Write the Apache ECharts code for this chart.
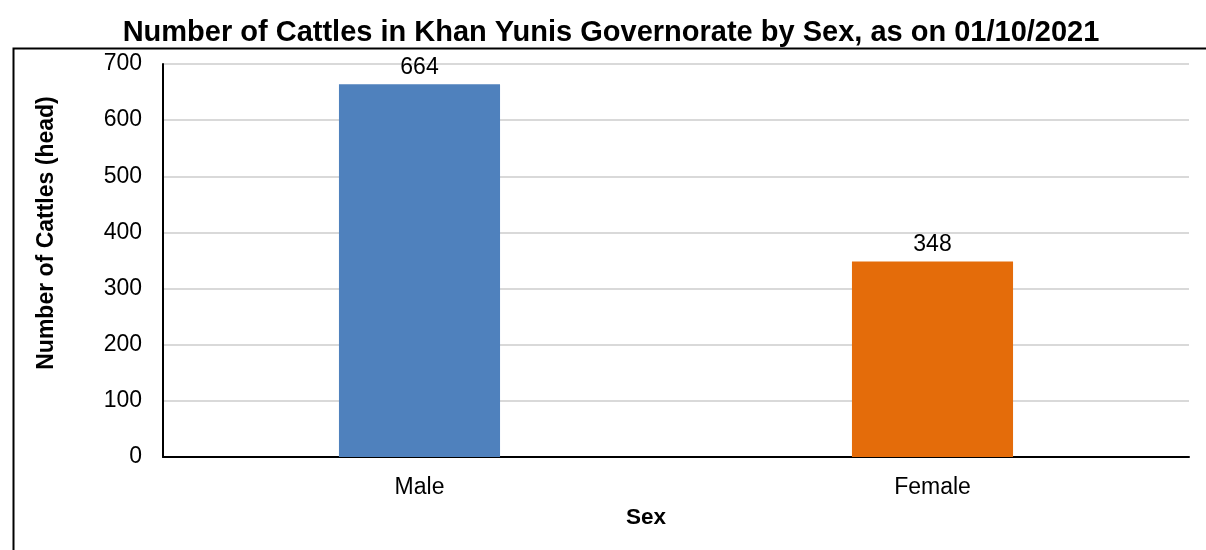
<!DOCTYPE html>
<html>
<head>
<meta charset="utf-8">
<script src="https://cdn.jsdelivr.net/npm/echarts@6/dist/echarts.min.js"></script>
<style>
html,body{margin:0;padding:0;background:#fff;}
#chart{width:1206px;height:550px;}
</style>
</head>
<body>
<div id="chart"></div>
<script>
const categories = ["Male", "Female"];
const values = [664, 348];
const barColors = ["#4F81BD", "#E46C0A"];
const yTicks = [0, 100, 200, 300, 400, 500, 600, 700];

const chart = echarts.init(document.getElementById('chart'), null, {renderer: 'canvas'});
const font = '"Liberation Sans", Arial, sans-serif';
chart.setOption({
  animation: false,
  backgroundColor: '#fff',
  title: {
    text: 'Number of Cattles in Khan Yunis Governorate by Sex, as on 01/10/2021',
    left: 606, textAlign: 'center', top: 13,
    textStyle: {fontFamily: font, fontSize: 29, fontWeight: 'bold', color: '#000'}
  },
  graphic: [{
    type: 'rect', left: 11, top: 46, z: 0,
    shape: {width: 1210, height: 520},
    style: {fill: 'none', stroke: '#000', lineWidth: 2}
  }],
  grid: {left: 163, right: 17, top: 64, bottom: 93, containLabel: false},
  xAxis: {
    type: 'category', data: categories,
    name: 'Sex', nameLocation: 'middle', nameGap: 49,
    nameTextStyle: {fontFamily: font, fontSize: 22.5, fontWeight: 'bold', color: '#000', padding: [0, 60, 0, 0]},
    axisLine: {lineStyle: {color: '#000', width: 2}},
    axisTick: {show: false},
    axisLabel: {fontFamily: font, fontSize: 23, color: '#000', margin: 19}
  },
  yAxis: {
    type: 'value', min: 0, max: 700, interval: 100,
    name: 'Number of Cattles (head)', nameLocation: 'middle', nameGap: 105,
    nameTextStyle: {fontFamily: font, fontSize: 23, fontWeight: 'bold', color: '#000', padding: [0, 0, 0, 55]},
    axisLine: {show: true, lineStyle: {color: '#000', width: 2}},
    axisTick: {show: false},
    splitLine: {lineStyle: {color: '#D9D9D9', width: 2}},
    axisLabel: {fontFamily: font, fontSize: 23, color: '#000', margin: 21, padding: [4, 0, 0, 0],
      formatter: v => yTicks.includes(v) ? String(v) : ''}
  },
  series: [{
    type: 'bar',
    data: values.map((v, i) => ({value: v, itemStyle: {color: barColors[i]}})),
    barWidth: '31.4%',
    label: {show: true, position: 'top', distance: 5, fontFamily: font, fontSize: 23, color: '#000'}
  }]
});
</script>
</body>
</html>
